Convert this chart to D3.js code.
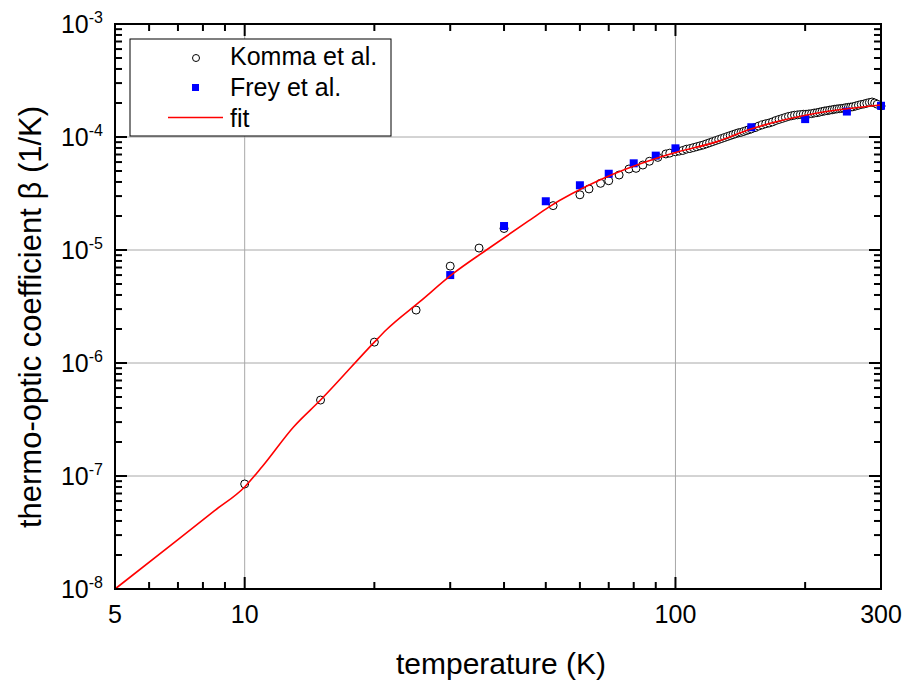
<!DOCTYPE html>
<html>
<head>
<meta charset="utf-8">
<script src="https://cdn.jsdelivr.net/npm/d3@7"></script>
<style>
body { margin: 0; background: #fff; }
text { font-family: Arial, "Liberation Sans", Helvetica, sans-serif; fill: #000; }
</style>
</head>
<body>
<div id="chart"></div>
<script>
// Komma et al. (open circles)
var kommaT = [10, 15, 20, 25, 30, 35, 40, 52, 60, 63, 67, 70, 74, 78, 81, 84, 87, 91, 95, 97,
	100, 102, 104, 106, 108, 110, 112, 114, 116, 118, 120, 122, 124, 126, 128, 130, 132, 134, 136, 138,
	140, 142, 144, 146, 148, 150, 153, 156, 159, 162, 165, 168, 171, 174, 177, 180, 183, 186, 189, 192,
	195, 198, 201, 204, 207, 210, 213, 216, 219, 222, 225, 228, 231, 234, 237, 240, 243, 246, 249, 252,
	255, 258, 262, 266, 270, 274, 278, 282, 286, 290, 294, 300];
var kommaBeta = [8.5e-8, 4.7e-7, 1.53e-6, 2.94e-6, 7.2e-6, 1.04e-5, 1.55e-5, 2.47e-5, 3.08e-5, 3.47e-5,
	3.89e-5, 4.1e-5, 4.61e-5, 5.21e-5, 5.28e-5, 5.65e-5, 6.1e-5, 6.6e-5, 7.08e-5, 7.2e-5,
	7.4e-5, 7.5e-5, 7.6e-5, 7.8e-5, 7.9e-5, 8.05e-5, 8.2e-5, 8.35e-5, 8.5e-5, 8.7e-5,
	8.9e-5, 9.1e-5, 9.3e-5, 9.5e-5, 9.7e-5, 9.9e-5, 1.01e-4, 1.03e-4, 1.05e-4, 1.07e-4,
	1.09e-4, 1.1e-4, 1.12e-4, 1.14e-4, 1.16e-4, 1.18e-4, 1.21e-4, 1.25e-4, 1.28e-4, 1.31e-4,
	1.33e-4, 1.36e-4, 1.4e-4, 1.43e-4, 1.46e-4, 1.49e-4, 1.52e-4, 1.54e-4, 1.56e-4, 1.57e-4,
	1.58e-4, 1.59e-4, 1.59e-4, 1.6e-4, 1.61e-4, 1.63e-4, 1.64e-4, 1.66e-4, 1.68e-4, 1.7e-4,
	1.71e-4, 1.73e-4, 1.74e-4, 1.76e-4, 1.77e-4, 1.78e-4, 1.79e-4, 1.8e-4, 1.82e-4, 1.83e-4,
	1.84e-4, 1.85e-4, 1.88e-4, 1.91e-4, 1.94e-4, 1.96e-4, 1.99e-4, 2.02e-4, 2.04e-4, 2.0e-4,
	1.95e-4, 1.88e-4];

// Frey et al. (blue squares)
var freyT = [30, 40, 50, 60, 70, 80, 90, 100, 150, 200, 250, 300];
var freyBeta = [6.0e-6, 1.63e-5, 2.7e-5, 3.74e-5, 4.73e-5, 5.85e-5, 6.84e-5, 7.94e-5, 1.22e-4, 1.44e-4, 1.68e-4, 1.89e-4];

// fit (red line)
var fitT = [5, 7, 8.5, 10, 11, 13, 15, 20, 21.3, 25.5, 30.5, 36.4, 45.9, 51, 66.7, 90, 100, 125, 149, 212, 300];
var fitBeta = [1.0e-8, 2.74e-8, 4.91e-8, 8.0e-8, 1.22e-7, 2.73e-7, 4.7e-7, 1.53e-6, 1.96e-6, 3.49e-6,
	6.2e-6, 1.0e-5, 1.84e-5, 2.42e-5, 4.16e-5, 6.45e-5, 7.3e-5, 9.1e-5, 1.17e-4, 1.62e-4, 1.92e-4];

var xTickLabels = [5, 10, 100, 300];
var yTickExps = [-3, -4, -5, -6, -7, -8];
var legendNames = ["Komma et al.", "Frey et al.", "fit"];

var WIDTH = 909;
var HEIGHT = 681;
var LEFT = 115, RIGHT = 881, TOP = 24, BOTTOM = 589;
var MAJOR = 12, MINOR = 7;
var GRID = "#a8a8a8";

var x = d3.scaleLog().domain([5, 300]).range([LEFT, RIGHT]);
var y = d3.scaleLog().domain([1e-8, 1e-3]).range([BOTTOM, TOP]);

var svg = d3.select("#chart").append("svg")
	.attr("width", WIDTH)
	.attr("height", HEIGHT);

// minor/major tick values
var xMajor = [10, 100];
var xMinor = [];
[1, 10, 100].forEach(function(d) {
	for(var i = 2; i <= 9; i++) {
		var v = d * i;
		if(v > 5 && v <= 300 && v !== 10 && v !== 100) xMinor.push(v);
	}
});
var yMajor = yTickExps.map(function(e) { return Math.pow(10, e); });
var yMinor = [];
for(var e = -8; e < -3; e++) {
	for(var i = 2; i <= 9; i++) yMinor.push(i * Math.pow(10, e));
}

// grid
svg.append("g").selectAll("line")
	.data(xMajor)
	.enter()
	.append("line")
	.attr("x1", d => x(d)).attr("x2", d => x(d))
	.attr("y1", TOP).attr("y2", BOTTOM)
	.attr("stroke", GRID).attr("stroke-width", 1);

svg.append("g").selectAll("line")
	.data(yMajor.filter(d => d > 1e-8 && d < 1e-3))
	.enter()
	.append("line")
	.attr("x1", LEFT).attr("x2", RIGHT)
	.attr("y1", d => y(d)).attr("y2", d => y(d))
	.attr("stroke", GRID).attr("stroke-width", 1);

// ticks on all four sides, pointing inward
var ticks = svg.append("g").attr("stroke", "#000").attr("stroke-width", 2);
function xTicks(vals, len) {
	vals.forEach(function(v) {
		ticks.append("line").attr("x1", x(v)).attr("x2", x(v)).attr("y1", BOTTOM).attr("y2", BOTTOM - len);
		ticks.append("line").attr("x1", x(v)).attr("x2", x(v)).attr("y1", TOP).attr("y2", TOP + len);
	});
}
function yTicks(vals, len) {
	vals.forEach(function(v) {
		ticks.append("line").attr("y1", y(v)).attr("y2", y(v)).attr("x1", LEFT).attr("x2", LEFT + len);
		ticks.append("line").attr("y1", y(v)).attr("y2", y(v)).attr("x1", RIGHT).attr("x2", RIGHT - len);
	});
}
xTicks(xMajor, MAJOR);
xTicks(xMinor, MINOR);
yTicks(yMajor, MAJOR);
yTicks(yMinor, MINOR);

// data
var komma = kommaT.map(function(t, i) { return {t: t, b: kommaBeta[i]}; });
var frey = freyT.map(function(t, i) { return {t: t, b: freyBeta[i]}; });
var fit = fitT.map(function(t, i) { return {t: t, b: fitBeta[i]}; });

svg.append("g").selectAll("circle")
	.data(komma)
	.enter()
	.append("circle")
	.attr("cx", d => x(d.t))
	.attr("cy", d => y(d.b))
	.attr("r", 4)
	.attr("fill", "#fff")
	.attr("stroke", "#000")
	.attr("stroke-width", 1);

svg.append("g").selectAll("rect")
	.data(frey)
	.enter()
	.append("rect")
	.attr("x", d => x(d.t) - 4)
	.attr("y", d => y(d.b) - 4)
	.attr("width", 8)
	.attr("height", 8)
	.attr("fill", "#0000ff");

var line = d3.line()
	.x(d => x(d.t))
	.y(d => y(d.b))
	.curve(d3.curveMonotoneX);

svg.append("path")
	.datum(fit)
	.attr("d", line)
	.attr("fill", "none")
	.attr("stroke", "#ff0000")
	.attr("stroke-width", 1.6);

// frame
svg.append("rect")
	.attr("x", LEFT).attr("y", TOP)
	.attr("width", RIGHT - LEFT).attr("height", BOTTOM - TOP)
	.attr("fill", "none")
	.attr("stroke", "#000")
	.attr("stroke-width", 2);

// tick labels
svg.append("g").selectAll("text")
	.data(xTickLabels)
	.enter()
	.append("text")
	.attr("x", d => x(d))
	.attr("y", 623)
	.attr("text-anchor", "middle")
	.style("font-size", "25px")
	.text(d => d);

var yl = svg.append("g").selectAll("text")
	.data(yTickExps)
	.enter()
	.append("text")
	.attr("x", 103)
	.attr("y", d => y(Math.pow(10, d)) + 9)
	.attr("text-anchor", "end")
	.style("font-size", "25px");
yl.append("tspan").text("10");
yl.append("tspan")
	.attr("dy", -10)
	.style("font-size", "16px")
	.text(d => d);

// axis titles
svg.append("text")
	.attr("x", 501)
	.attr("y", 674)
	.attr("text-anchor", "middle")
	.style("font-size", "30px")
	.text("temperature (K)");

svg.append("text")
	.attr("transform", "translate(41,317) rotate(-90)")
	.attr("text-anchor", "middle")
	.style("font-size", "31px")
	.text("thermo-optic coefficient \u03b2 (1/K)");

// legend
var lg = svg.append("g");
lg.append("rect")
	.attr("x", 130).attr("y", 39)
	.attr("width", 261).attr("height", 97)
	.attr("fill", "#fff")
	.attr("stroke", "#000")
	.attr("stroke-width", 1);
lg.append("circle")
	.attr("cx", 196).attr("cy", 58)
	.attr("r", 3.5)
	.attr("fill", "#fff").attr("stroke", "#000");
lg.append("rect")
	.attr("x", 192).attr("y", 84)
	.attr("width", 7).attr("height", 7)
	.attr("fill", "#0000ff");
lg.append("line")
	.attr("x1", 168).attr("x2", 223)
	.attr("y1", 117.5).attr("y2", 117.5)
	.attr("stroke", "#ff0000").attr("stroke-width", 1.6);
lg.selectAll("text")
	.data(legendNames)
	.enter()
	.append("text")
	.attr("x", 230)
	.attr("y", (d, i) => 65 + i * 30.8)
	.style("font-size", "25px")
	.text(d => d);
</script>
</body>
</html>
